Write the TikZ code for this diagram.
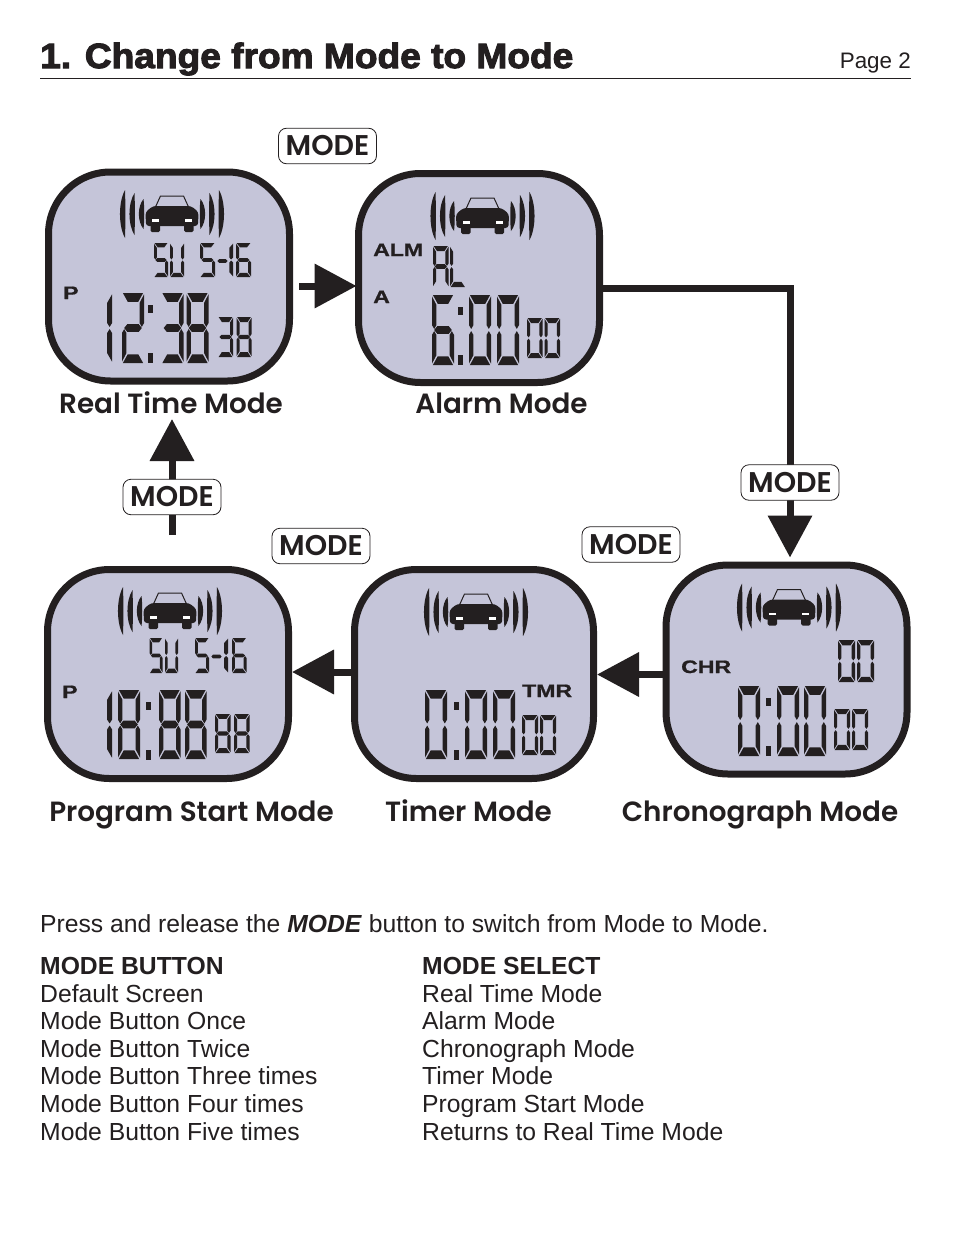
\documentclass[tikz,border=0pt]{standalone}
\usepackage{fontspec}
\usetikzlibrary{arrows.meta}
\setmainfont{Liberation Sans}
\newfontfamily\titlefont[FakeBold=3,FakeStretch=1.06]{Liberation Sans Bold}
\newfontfamily\tagfont[FakeBold=1,FakeStretch=1.28]{Liberation Sans Bold}
\newfontfamily\geofont{Poppins SemiBold}
\definecolor{ink}{HTML}{231F20}
\definecolor{lcd}{HTML}{C5C5D9}
% segment outlines in a unit box
\def\sega{(.04,0)--(.96,0)--(.74,.125)--(.26,.125)--cycle}
\def\segb{(.8,.14)--(1,.02)--(1,.43)--(.9,.485)--(.8,.43)--cycle}
\def\segc{(.8,.86)--(1,.98)--(1,.57)--(.9,.515)--(.8,.57)--cycle}
\def\segd{(.04,1)--(.96,1)--(.74,.875)--(.26,.875)--cycle}
\def\sege{(.2,.86)--(0,.98)--(0,.57)--(.1,.515)--(.2,.57)--cycle}
\def\segf{(.2,.14)--(0,.02)--(0,.43)--(.1,.485)--(.2,.43)--cycle}
\def\segg{(.1,.5)--(.24,.445)--(.76,.445)--(.9,.5)--(.76,.555)--(.24,.555)--cycle}
\def\gZero{a,b,c,d,e,f}
\def\gOne{b,c}
\def\gTwo{a,b,g,e,d}
\def\gThree{a,b,g,c,d}
\def\gFive{a,f,g,c,d}
\def\gSix{a,f,g,e,c,d}
\def\gEight{a,b,c,d,e,f,g}
\def\gU{f,b,e,c,d}
\def\gA{a,b,c,e,f,g}
\def\gL{f,e,d}
\def\gDash{g}
\newcommand\lcd[5]{\begin{scope}[shift={(#1,#2)},xscale=#3,yscale=#4]
  \foreach \s in #5 {\expandafter\let\expandafter\segcur\csname seg\s\endcsname
    \fill[ink] \segcur;}
\end{scope}}
\newcommand\lcddots[2]{\fill[ink] (#1,#2+12) rectangle (#1+5,#2+20);
  \fill[ink] (#1,#2+60) rectangle (#1+5,#2+70);}
\newcommand\crescent[3]{% end x, half height, extreme x
  \fill[ink] (#1,-#2) .. controls (#3-1.7,-#2*.5) and (#3-1.7,#2*.5) .. (#1,#2)
     .. controls (#3+5.5,#2*.5) and (#3+5.5,-#2*.5) .. cycle;}
\newcommand\caricon[2]{\begin{scope}[shift={(#1,#2)}]
  \foreach \m in {1,-1}{\begin{scope}[xscale=\m]
    \crescent{-47}{24}{-52}
    \crescent{-37.5}{21}{-42.5}
    \crescent{-28.5}{15}{-33}
  \end{scope}}
  \draw[ink,line width=1pt] (-17,-6) -- (-11.5,-18) -- (11.5,-18) -- (17,-6);
  \fill[ink,rounded corners=3pt] (-26,12) -- (-26.5,-2) -- (-19,-8) -- (19,-8) -- (26.5,-2) -- (26,12) -- cycle;
  \fill[ink,rounded corners=1.5pt] (-21.5,9) rectangle (-12,18);
  \fill[ink,rounded corners=1.5pt] (12,9) rectangle (21.5,18);
  \fill[white] (-20,5) rectangle (-13,7.5);
  \fill[white] (13,5) rectangle (20,7.5);
\end{scope}}
\tikzset{
  x=1pt,y=-1pt,
  screen/.style={draw=ink,fill=lcd,line width=7pt,rounded corners=62pt,minimum width=#1,minimum height=209pt,inner sep=0pt},
  modebtn/.style={draw=ink,fill=white,line width=.8pt,rounded corners=8pt,inner sep=0pt,minimum width=98pt,minimum height=35.5pt,text=ink,font=\geofont\fontsize{28.5}{30}\selectfont},
  caption/.style={anchor=base,text=ink,inner sep=0pt,font=\geofont\fontsize{27.8}{30}\selectfont},
  tag/.style={anchor=base west,text=ink,inner sep=0pt,font=\tagfont\fontsize{18}{20}\selectfont},
  body/.style={anchor=base west,text=ink,inner sep=0pt,font=\fontsize{24.7}{28}\selectfont},
  flow/.style={draw=ink,line width=7pt,-{Triangle[length=42pt,width=43pt,color=ink]}},
}
\begin{document}
\begin{tikzpicture}
\useasboundingbox (0,0) rectangle (954,1255);
\fill[white] (0,0) rectangle (954,1255);
% header
\node[anchor=base west,text=ink,inner sep=0pt,font=\titlefont\fontsize{35}{38}\selectfont] (title) at (40,68) {1. Change from Mode to Mode};
\node[anchor=base east,text=ink,inner sep=0pt,font=\fontsize{22.4}{26}\selectfont] (page) at (911,69) {Page 2};
\coordinate (ruleL) at (40,78);
\coordinate (ruleR) at (911,78);
\draw[ink,line width=.8pt] (ruleL) -- (ruleR);
% screens
\node[screen=241pt] (real) at (169,276.5) {};
\node[screen=241pt] (alarm) at (479,278) {};
\node[screen=241pt] (chrono) at (786.5,669.5) {};
\node[screen=239pt] (timer) at (474,674) {};
\node[screen=241pt] (prog) at (168,674) {};
% connectors
\coordinate (alarmCorner) at (790,288);
\coordinate (chronoTip) at (790,557.5);
\coordinate (progStart) at (172,535);
\coordinate (realTip) at (172,419);
\draw[flow] ([shift={(6pt,-9.5pt)}]real.east) -- ([shift={(1.5pt,-8pt)}]alarm.west);
\draw[flow,line join=miter] ([yshift=-10pt]alarm.east) -- (alarmCorner) -- (chronoTip);
\draw[flow] ([yshift=-5pt]chrono.west) -- ([yshift=-.5pt]timer.east);
\draw[flow] ([yshift=2pt]timer.west) -- ([yshift=2pt]prog.east);
\draw[flow] (progStart) -- (realTip);
% buttons
\node[modebtn] (m1) at (327.5,146) {\raisebox{-1pt}{MODE}};
\node[modebtn] (m2) at (790,482.5) {\raisebox{-1pt}{MODE}};
\node[modebtn] (m3) at (631,544.5) {\raisebox{-1pt}{MODE}};
\node[modebtn] (m4) at (321,546) {\raisebox{-1pt}{MODE}};
\node[modebtn] (m5) at (172,497) {\raisebox{-1pt}{MODE}};
% captions
\node[caption] (c1) at (171,413) {Real Time Mode};
\node[caption] (c2) at (501.5,413) {Alarm Mode};
\node[caption] (c3) at (191.5,821) {Program Start Mode};
\node[caption] (c4) at (468.5,821) {Timer Mode};
\node[caption] (c5) at (760,821) {Chronograph Mode};
% car icons
\caricon{172}{214}
\caricon{482.5}{216}
\caricon{789}{607.5}
\caricon{476}{612}
\caricon{170}{611}
% real time display
\lcd{154}{243}{14}{34}{\gFive}
\lcd{170}{243}{14}{34}{\gU}
\lcd{200}{243}{15}{34}{\gFive}
\lcd{216}{244}{13}{34}{\gDash}
\lcd{215}{243}{18}{34}{\gOne}
\lcd{236}{243}{15}{34}{\gSix}
\node[tag] (p1) at (63,299) {P};
\lcd{88}{293}{24}{70}{\gOne}
\lcd{122}{293}{22}{70}{\gTwo}
\lcddots{148}{293}
\lcd{161.5}{293}{22}{70}{\gThree}
\lcd{186.5}{293}{22}{70}{\gEight}
\lcd{218}{317}{15}{40}{\gThree}
\lcd{236.5}{317}{15}{40}{\gEight}
% alarm display
\node[tag] (alm) at (373,256) {ALM};
\node[tag] (a1) at (373,303) {A};
\lcd{433}{246}{15.5}{41}{\gA}
\lcd{450}{246}{15.5}{41}{\gL}
\lcd{432}{295}{22}{70}{\gSix}
\lcddots{458}{295}
\lcd{469}{295}{22}{70}{\gZero}
\lcd{497}{295}{22}{70}{\gZero}
\lcd{527}{318}{15.5}{40}{\gZero}
\lcd{544.5}{318}{15.5}{40}{\gZero}
% chronograph display
\node[tag] (chr) at (681,673) {CHR};
\lcd{838}{640}{17}{42}{\gZero}
\lcd{857}{640}{17}{42}{\gZero}
\lcd{738}{686}{22}{70}{\gZero}
\lcddots{765.5}{686}
\lcd{777}{686}{22}{70}{\gZero}
\lcd{804}{686}{22}{70}{\gZero}
\lcd{834}{709}{16}{41}{\gZero}
\lcd{852}{709}{16}{41}{\gZero}
% timer display
\node[tag] (tmr) at (522,697) {TMR};
\lcd{425}{690}{22}{69}{\gZero}
\lcddots{454}{690}
\lcd{465}{690}{22}{69}{\gZero}
\lcd{493}{690}{22}{69}{\gZero}
\lcd{522}{715}{16}{40}{\gZero}
\lcd{540}{715}{16}{40}{\gZero}
% program start display
\lcd{149.5}{638}{13}{35}{\gFive}
\lcd{165}{638}{13}{35}{\gU}
\lcd{195}{638}{14}{35}{\gFive}
\lcd{210}{639}{13}{35}{\gDash}
\lcd{209}{638}{19}{35}{\gOne}
\lcd{232}{638}{14.5}{35}{\gSix}
\node[tag] (p2) at (62,698) {P};
\lcd{88}{690}{24}{69}{\gOne}
\lcd{118}{690}{22}{69}{\gEight}
\lcddots{146}{690}
\lcd{159}{690}{21.5}{69}{\gEight}
\lcd{185}{690}{21.5}{69}{\gEight}
\lcd{215}{714}{15.5}{39}{\gEight}
\lcd{234}{714}{15.5}{39}{\gEight}
% body text
\node[body] (intro) at (40,932) {Press and release the \textbf{\textit{MODE}} button to switch from Mode to Mode.};
\node[body] (l0) at (40,974) {\textbf{MODE BUTTON}};
\node[body] (l1) at (40,1002) {Default Screen};
\node[body] (l2) at (40,1029) {Mode Button Once};
\node[body] (l3) at (40,1057) {Mode Button Twice};
\node[body] (l4) at (40,1084) {Mode Button Three times};
\node[body] (l5) at (40,1112) {Mode Button Four times};
\node[body] (l6) at (40,1140) {Mode Button Five times};
\node[body] (r0) at (422,974) {\textbf{MODE SELECT}};
\node[body] (r1) at (422,1002) {Real Time Mode};
\node[body] (r2) at (422,1029) {Alarm Mode};
\node[body] (r3) at (422,1057) {Chronograph Mode};
\node[body] (r4) at (422,1084) {Timer Mode};
\node[body] (r5) at (422,1112) {Program Start Mode};
\node[body] (r6) at (422,1140) {Returns to Real Time Mode};
\end{tikzpicture}
\end{document}
